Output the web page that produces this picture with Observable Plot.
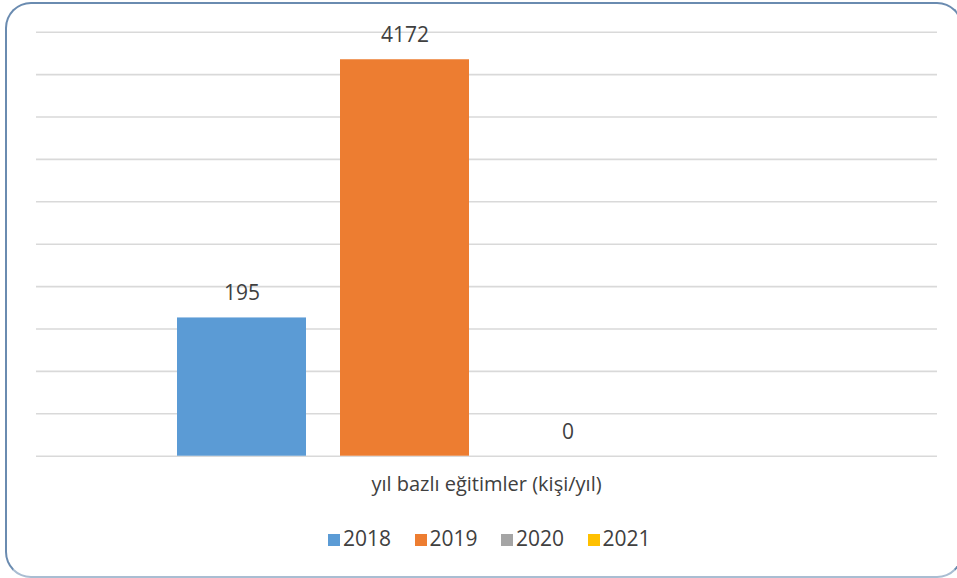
<!DOCTYPE html>
<html>
<head>
<meta charset="utf-8">
<script src="https://cdn.jsdelivr.net/npm/d3@7"></script>
<script src="https://cdn.jsdelivr.net/npm/@observablehq/plot@0.6"></script>
<style>
  html, body { margin: 0; padding: 0; background: #fff; }
  #wrap { position: relative; width: 957px; height: 578px; overflow: hidden; background: #fff; font-family: "Open Sans", sans-serif; }
  #frame { position: absolute; left: 5px; top: 2px; width: 958px; height: 576px; box-sizing: border-box;
           border: 2.5px solid #6a8bb0; border-bottom-color: #a9bdd2; border-radius: 26px; }
  .layer { position: absolute; left: 0; top: 0; }
  #xlabel { position: absolute; left: 36px; width: 901px; top: 474px; text-align: center;
            font-size: 20px; line-height: 20px; color: #404040; }
  #legend { position: absolute; left: 328px; top: 528px; display: flex; gap: 23.5px;
            font-size: 21px; line-height: 21px; color: #404040; }
  .item { display: flex; align-items: flex-start; }
  .sw { width: 12px; height: 12px; margin-top: 6px; margin-right: 3px; }
</style>
</head>
<body>
<div id="wrap">
  <div id="frame"></div>
  <div id="grid" class="layer"></div>
  <div id="bars" class="layer"></div>
  <div id="xlabel"></div>
  <div id="legend"></div>
</div>
<script>
// ---- data ----
const years = ["2018", "2019", "2020", "2021"];
const values = [195, 4172, 0, null];
const colors = ["#5b9bd5", "#ed7d31", "#a5a5a5", "#ffc000"];
const axisTitle = "yıl bazlı eğitimler (kişi/yıl)";
const gridSteps = [0, 1, 2, 3, 4, 5, 6, 7, 8, 9, 10];

const rows = years.map((y, i) => ({year: y, value: values[i], color: colors[i]}));

const W = 957, H = 460;
const common = {width: W, height: H, marginLeft: 36, marginRight: 20, marginTop: 31.7, marginBottom: 4.3};

// gridlines (evenly spaced, as in the source chart)
document.getElementById("grid").append(Plot.plot({
  ...common,
  x: {axis: null},
  y: {axis: null, domain: [0, 10]},
  marks: [Plot.ruleY(gridSteps, {stroke: "#d9d9d9", strokeWidth: 1.6})]
}));

// bars (value axis of the source is hidden; its bar heights follow a compressed scale)
document.getElementById("bars").append(Plot.plot({
  ...common,
  style: {background: "transparent", fontFamily: "Open Sans, sans-serif"},
  x: {axis: null, domain: years, paddingInner: 0.208, paddingOuter: 0.857},
  y: {axis: null, type: "symlog", constant: 55, domain: [0, 5661]},
  marks: [
    Plot.barY(rows.filter(d => d.value != null), {x: "year", y: "value", fill: "color"}),
    Plot.text(rows.filter(d => d.value != null), {
      x: "year", y: "value", text: d => String(d.value),
      lineAnchor: "bottom", dy: -17.5, fontSize: 21, fill: "#404040"
    })
  ]
}));

document.getElementById("xlabel").textContent = axisTitle;

const legend = document.getElementById("legend");
years.forEach((y, i) => {
  const it = document.createElement("div");
  it.className = "item";
  const sw = document.createElement("div");
  sw.className = "sw";
  sw.style.background = colors[i];
  const t = document.createElement("span");
  t.textContent = y;
  it.append(sw, t);
  legend.append(it);
});
</script>
</body>
</html>
